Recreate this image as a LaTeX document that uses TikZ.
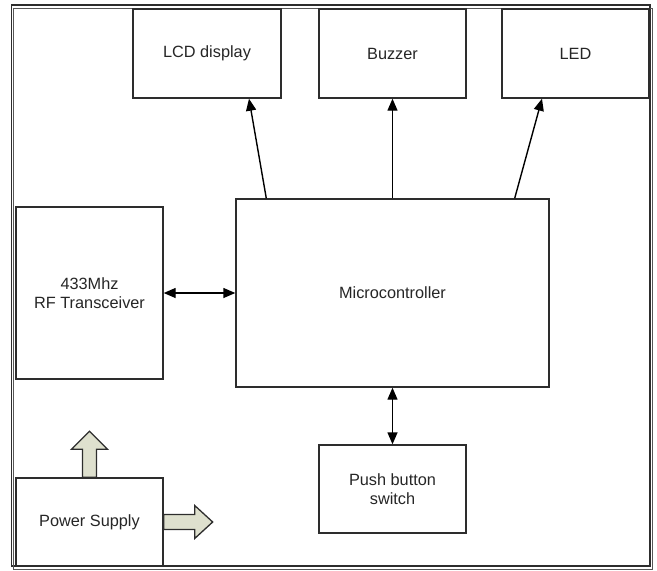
\documentclass[tikz,border=0pt]{standalone}
\usepackage{fontspec}
\setmainfont{Liberation Sans}
\usetikzlibrary{arrows.meta}
\definecolor{linegray}{RGB}{45,45,45}
\definecolor{powerfill}{RGB}{222,224,206}
\begin{document}
\begin{tikzpicture}[x=1pt,y=-1pt,
  block/.style={draw=linegray,line width=1.4pt,fill=white,align=center,
    inner sep=0pt,font=\fontsize{16.3}{19}\selectfont,text=black!85},
  link/.style={draw=black,line width=1.4pt,-{Triangle[length=12pt,width=10pt]}},
  duplex/.style={draw=black,line width=1.4pt,{Triangle[length=12pt,width=10pt]}-{Triangle[length=12pt,width=10pt]}},
  fat/.style={draw=linegray,line width=1.3pt,fill=powerfill,line join=miter}]
\useasboundingbox (0,0) rectangle (657,571);
% frame around the whole diagram
\draw[linegray,line width=1.3pt] (11.5,5) rectangle (650,566);
\draw[linegray!80,line width=1pt] (13,8) rectangle (652.5,569);

% blocks
\node[block,minimum width=148pt,minimum height=89pt] (lcd) at (207,53.5) {LCD display};
\node[block,minimum width=147pt,minimum height=89pt] (buzzer) at (392.5,53.5) {Buzzer};
\node[block,minimum width=147pt,minimum height=89pt] (led) at (575.5,53.5) {LED};
\node[block,minimum width=313pt,minimum height=188pt] (mcu) at (392.5,293) {Microcontroller};
\node[block,minimum width=147pt,minimum height=172pt] (rf) at (89.5,293) {433Mhz\\RF Transceiver};
\node[block,minimum width=147pt,minimum height=88pt] (psu) at (89.5,522) {Power Supply};
\node[block,minimum width=147pt,minimum height=88pt] (push) at (392.5,489) {Push button\\switch};

% signal connections
\draw[link] ([xshift=31pt]mcu.north west) -- ([xshift=42pt]lcd.south);
\draw[link] (mcu.north) -- (buzzer.south);
\draw[link] ([xshift=-35pt]mcu.north east) -- ([xshift=-33.5pt]led.south);
\draw[duplex] (rf.east) -- (mcu.west);
\draw[duplex] (mcu.south) -- (push.north);

% power outputs
\draw[fat] ([xshift=-7pt]psu.north) -- ++(0,-28) -- ++(-11,0) -- ++(18,-18)
  -- ++(18,18) -- ++(-11,0) -- ++(0,28) -- cycle;
\draw[fat] ([yshift=7.5pt]psu.east) -- ++(31,0) -- ++(0,-9) -- ++(18,16.5)
  -- ++(-18,16.5) -- ++(0,-9) -- ++(-31,0) -- cycle;
\end{tikzpicture}
\end{document}
